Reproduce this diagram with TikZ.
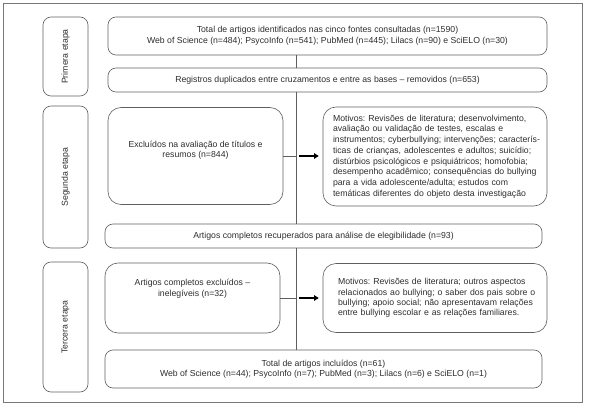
\documentclass[tikz,border=0pt]{standalone}
\usepackage{fontspec}
\setmainfont{Liberation Sans}
\frenchspacing
\usetikzlibrary{calc,arrows.meta}
\definecolor{bd}{RGB}{95,95,95}
\definecolor{txt}{RGB}{45,45,45}
\definecolor{frm}{RGB}{120,120,120}
\begin{document}
\begin{tikzpicture}[x=1pt,y=-1pt,
  font=\fontsize{8.7}{10}\selectfont, text=txt,
  box/.style={draw=bd, line width=0.6pt, rounded corners=8pt, inner sep=0pt, align=center},
  bigbox/.style={box, rounded corners=13pt},
  stagebox/.style={box, rotate=90},
  conn/.style={draw=bd, line width=0.6pt},
  thickarrow/.style={draw=black, line width=1.8pt, -{Triangle[length=4.5pt,width=5.5pt]}}]
\useasboundingbox (0,0) rectangle (589,406);
\draw[frm, line width=0.6pt] (3,3) rectangle (582,402);

% stage boxes
\node[stagebox, minimum width=79pt, minimum height=45pt] (s1) at (65.5,56.5) {Primera etapa};
\node[stagebox, minimum width=142pt, minimum height=45pt] (s2) at (65.5,177) {Segunda etapa};
\node[stagebox, minimum width=130pt, minimum height=45pt] (s3) at (65.5,327) {Tercera etapa};

% main boxes
\node[box, minimum width=439pt, minimum height=38pt, font=\fontsize{8.7}{11.5}\selectfont] (top) at (327.5,36)
  {Total de artigos identificados nas cinco fontes consultadas (n=1590)\\
   Web of Science (n=484); PsycoInfo (n=541); PubMed (n=445); Lilacs (n=90) e SciELO (n=30)};
\node[box, minimum width=439pt, minimum height=24pt] (reg) at (327.5,80)
  {Registros duplicados entre cruzamentos e entre as bases -- removidos (n=653)};
\node[bigbox, minimum width=175pt, minimum height=97pt] (exc1) at (195.5,156) {};
\node[align=center, inner sep=0pt, font=\fontsize{8.7}{10.5}\selectfont] (exc1t) at (195.5,150)
  {Excluídos na avaliação de títulos e\\resumos (n=844)};
\node[bigbox, minimum width=224pt, minimum height=99pt, text width=210pt, inner xsep=7pt, align=left, font=\fontsize{8.7}{10.7}\selectfont] (mot1) at (435,156.5)
  {\hspace*{3pt}Motivos: Revisões de literatura; desenvolvimento,\\
   \hspace*{3pt}avaliação ou validação de testes, escalas e\\
   \hspace*{3pt}instrumentos; cyberbullying; intervenções; caracterís-\\
   \hspace*{3pt}ticas de crianças, adolescentes e adultos; suicídio;\\
   \hspace*{3pt}distúrbios psicológicos e psiquiátricos; homofobia;\\
   \hspace*{3pt}desempenho acadêmico; consequências do bullying\\
   \hspace*{3pt}para a vida adolescente/adulta; estudos com\\
   \hspace*{3pt}temáticas diferentes do objeto desta investigação};
\node[box, minimum width=437pt, minimum height=24pt] (rec) at (323.5,236)
  {Artigos completos recuperados para análise de elegibilidade (n=93)};
\node[bigbox, minimum width=175pt, minimum height=70pt] (exc2) at (192.5,298) {};
\node[align=center, inner sep=0pt, font=\fontsize{8.7}{11}\selectfont] (exc2t) at (192.5,289)
  {Artigos completos excluídos --\\inelegíveis (n=32)};
\node[bigbox, minimum width=224pt, minimum height=69pt, text width=206pt, inner xsep=9pt, align=left, font=\fontsize{8.7}{10.3}\selectfont] (mot2) at (435,298)
  {\hspace*{6pt}Motivos: Revisões de literatura; outros aspectos\\
   \hspace*{6pt}relacionados ao bullying; o saber dos pais sobre o\\
   \hspace*{6pt}bullying; apoio social; não apresentavam relações\\
   \hspace*{6pt}entre bullying escolar e as relações familiares.};
\node[box, minimum width=437pt, minimum height=38pt, font=\fontsize{8.7}{10.5}\selectfont] (fin) at (323.5,369)
  {Total de artigos incluídos (n=61)\\
   Web of Science (n=44); PsycoInfo (n=7); PubMed (n=3); Lilacs (n=6) e SciELO (n=1)};

% connectors
\coordinate (spine) at (296,0);
\draw[conn] (top.south -| spine) -- (reg.north -| spine);
\draw[conn] (reg.south -| spine) -- (rec.north -| spine);
\draw[conn] (rec.south -| spine) -- (fin.north -| spine);
\draw[conn] (exc1.east) -- (exc1.east -| spine);
\draw[conn] (exc2.east) -- (exc2.east -| spine);
\draw[thickarrow] ($(exc1.east -| spine)+(3,0)$) -- ($(exc1.east -| mot1.west)+(-4,0)$);
\draw[thickarrow] ($(exc2.east -| spine)+(3,0)$) -- ($(exc2.east -| mot2.west)+(-4,0)$);
\end{tikzpicture}
\end{document}
